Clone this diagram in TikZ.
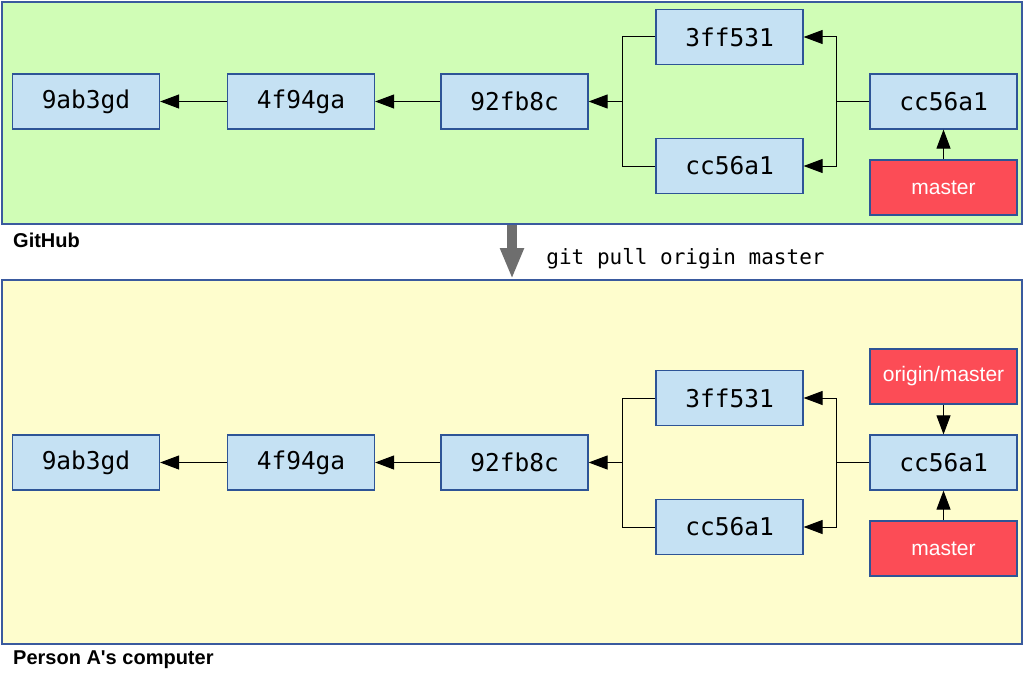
\documentclass[tikz,border=0pt]{standalone}
\usepackage{fontspec}
\setmainfont{Liberation Sans}
\newfontfamily\hashfont{DejaVu Sans Mono}
\usetikzlibrary{arrows.meta}
\definecolor{hubgreen}{RGB}{208,253,182}
\definecolor{pcyellow}{RGB}{254,253,205}
\definecolor{panelblue}{RGB}{58,90,158}
\definecolor{commitblue}{RGB}{197,225,243}
\definecolor{commitedge}{RGB}{46,84,150}
\definecolor{branchred}{RGB}{252,76,86}
\definecolor{pullgrey}{RGB}{110,110,110}
\tikzset{
  panel/.style={draw=panelblue, line width=2pt, minimum width=1020pt, inner sep=0pt},
  commit/.style={draw=commitedge, fill=commitblue, line width=1.2pt, minimum width=147pt, minimum height=55pt, inner sep=0pt, font=\hashfont\fontsize{24.5}{24.5}\selectfont},
  branch/.style={draw=commitedge, fill=branchred, line width=1.2pt, minimum width=147pt, minimum height=55pt, inner sep=0pt, text=white, font=\fontsize{21}{21}\selectfont},
  link/.style={line width=1pt},
  arr/.style={link, -{Triangle[length=19pt,width=14pt]}},
  pull/.style={draw=pullgrey, line width=10pt, -{Triangle[length=31pt,width=22pt]}},
  where/.style={anchor=west, inner sep=0pt, font=\bfseries\fontsize{20}{20}\selectfont}
}
\begin{document}
\begin{tikzpicture}[x=1pt,y=-1pt]
\useasboundingbox (0,0) rectangle (1024,677);
% the two places
\node[panel, fill=hubgreen, minimum height=222pt] (github) at (512,113) {};
\node[panel, fill=pcyellow, minimum height=364pt] (laptop) at (512,462) {};
\node[where] (lgithub) at (13,240) {GitHub};
\node[where] (llaptop) at (13,660) {Person A\textquotesingle s computer};
% GitHub
\node[commit] (g9a) at (86,101.5) {9ab3gd};
\node[commit] (g4f) at (301,101.5) {4f94ga};
\node[commit] (g92) at (514.5,101.5) {92fb8c};
\node[commit] (g3f) at (729.5,37) {3ff531};
\node[commit] (gcc) at (729.5,166) {cc56a1};
\node[commit] (gtip) at (943.5,101.5) {cc56a1};
\node[branch] (gmaster) at (943.5,187.5) {master};
\coordinate (gforkL) at (622,101.5);
\coordinate (gforkR) at (836,101.5);
\draw[arr] (g4f) -- (g9a);
\draw[arr] (g92) -- (g4f);
\draw[link] (g3f.west) -| (gforkL) |- (gcc.west);
\draw[arr] (gforkL) -- (g92.east);
\draw[link] (gtip.west) -- (gforkR);
\draw[arr] (gforkR) |- (g3f.east);
\draw[arr] (gforkR) |- (gcc.east);
\draw[arr] (gmaster) -- (gtip);
% pull
\coordinate (pullx) at (512,0);
\draw[pull] (github.south -| pullx) -- (laptop.north -| pullx);
\node[anchor=base, inner sep=0pt, font=\hashfont\fontsize{21}{21}\selectfont] (cmd) at (685.5,264) {git pull origin master};
% Person A's computer
\node[commit] (a9a) at (86,462.5) {9ab3gd};
\node[commit] (a4f) at (301,462.5) {4f94ga};
\node[commit] (a92) at (514.5,462.5) {92fb8c};
\node[commit] (a3f) at (729.5,398) {3ff531};
\node[commit] (acc) at (729.5,527) {cc56a1};
\node[commit] (atip) at (943.5,462.5) {cc56a1};
\node[branch] (aorigin) at (943.5,376.5) {origin/master};
\node[branch] (amaster) at (943.5,548.5) {master};
\coordinate (aforkL) at (622,462.5);
\coordinate (aforkR) at (836,462.5);
\draw[arr] (a4f) -- (a9a);
\draw[arr] (a92) -- (a4f);
\draw[link] (a3f.west) -| (aforkL) |- (acc.west);
\draw[arr] (aforkL) -- (a92.east);
\draw[link] (atip.west) -- (aforkR);
\draw[arr] (aforkR) |- (a3f.east);
\draw[arr] (aforkR) |- (acc.east);
\draw[arr] (aorigin) -- (atip);
\draw[arr] (amaster) -- (atip);
\end{tikzpicture}
\end{document}
